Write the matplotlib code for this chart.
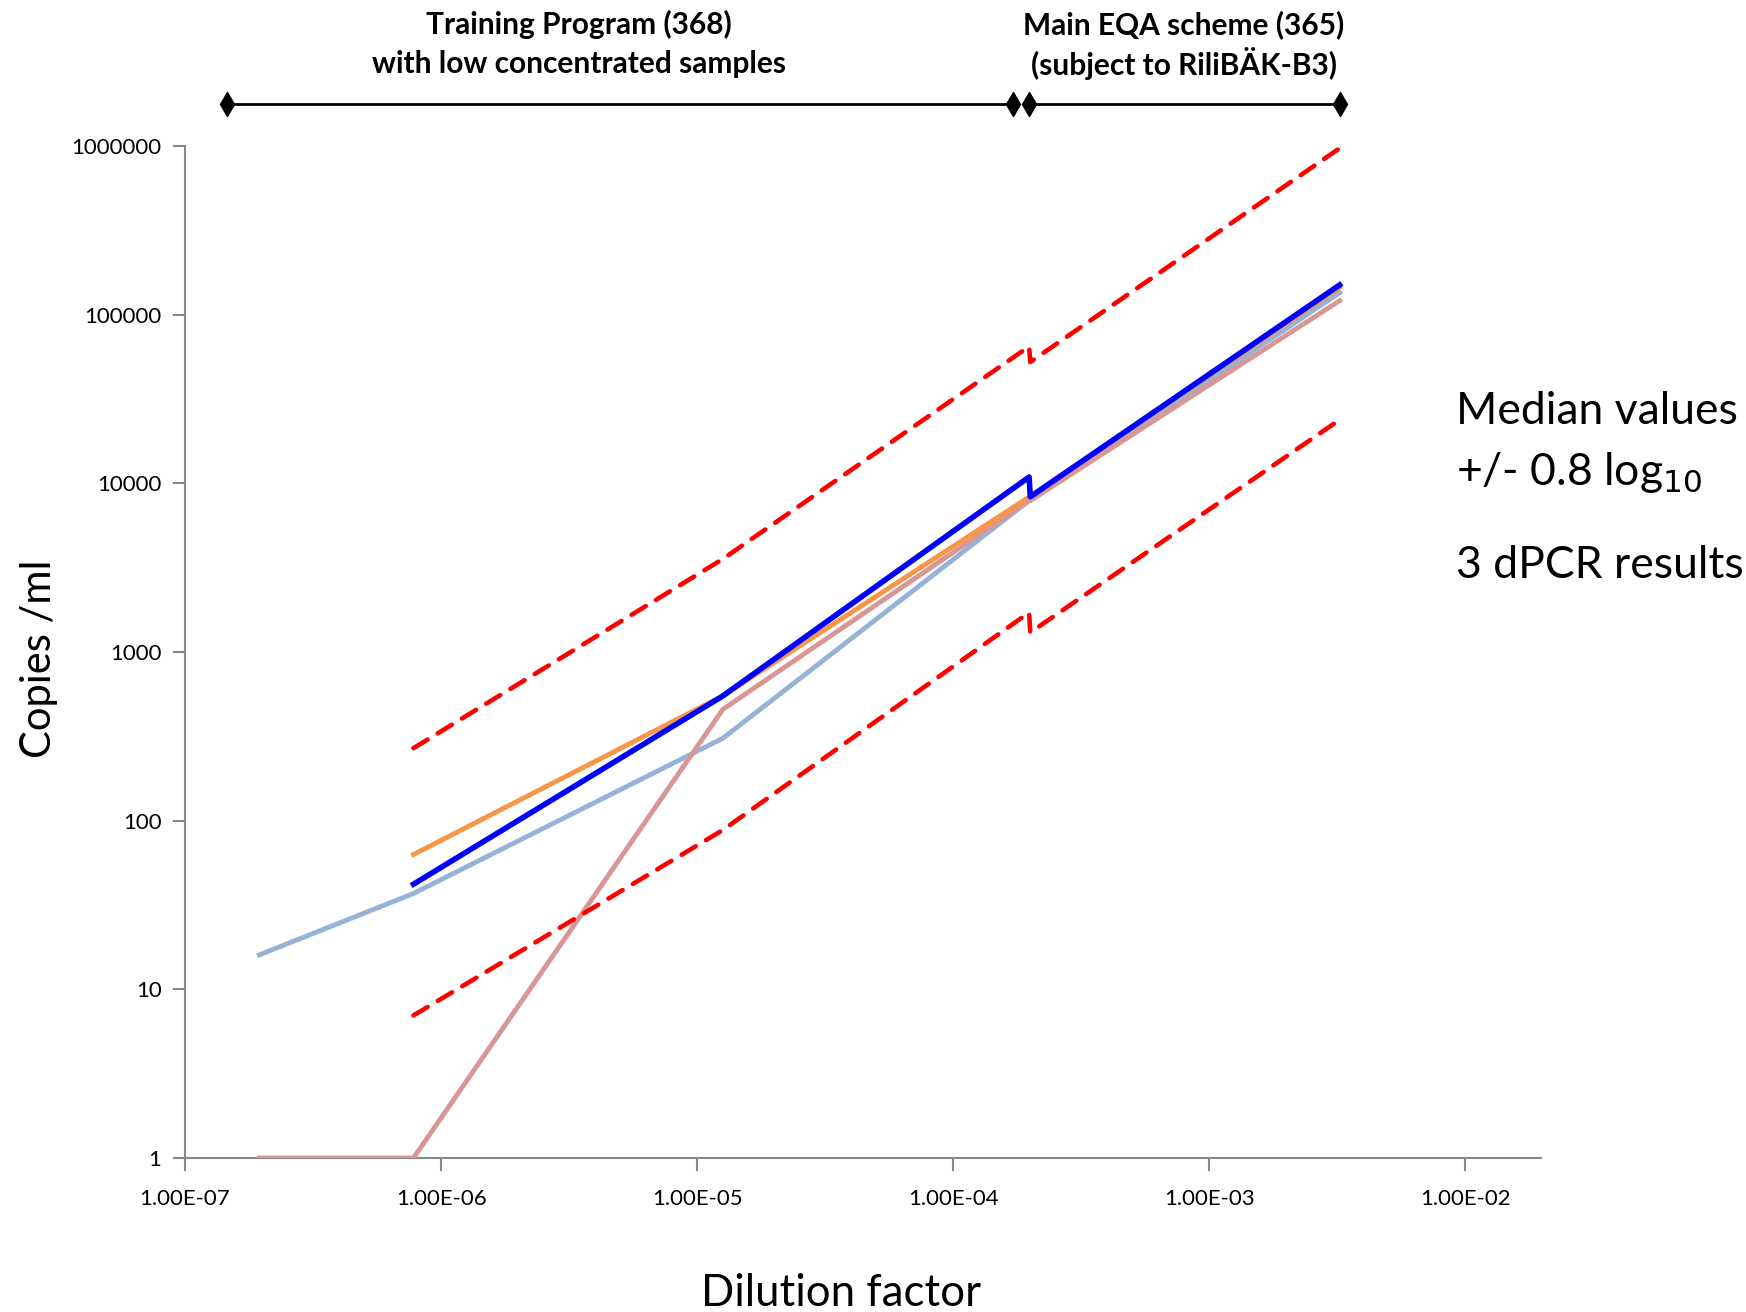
import numpy as np
import matplotlib.pyplot as plt
import matplotlib.transforms as mtransforms

# dilution factors (training program points, then main EQA scheme points)
dilution = [1.95e-7, 7.8e-7, 1.26e-5, 1.98e-4, 2.0e-4, 3.23e-3]

nan = np.nan
gray_blue = [16, 37, 308, 7900, 7900, 135000]
pink = [1, 1, 457, 7900, 7900, 121000]
orange = [nan, 63, 549, 8300, 8300, 145000]
blue = [nan, 42, 549, 10900, 8330, 150000]
upper_limit = [nan, 269, 3560, 64800, 52400, 970000]
lower_limit = [nan, 7.0, 88, 1715, 1305, 23800]

# program ranges for the bar above the chart
training_range = [1.46e-7, 1.72e-4]
eqa_range = [1.98e-4, 3.23e-3]

y_ticks = [1, 10, 100, 1000, 10000, 100000, 1000000]
x_ticks = [1e-7, 1e-6, 1e-5, 1e-4, 1e-3, 1e-2]
x_labels = ['1.00E-07', '1.00E-06', '1.00E-05', '1.00E-04', '1.00E-03', '1.00E-02']

plt.rcParams['font.family'] = ['Lato', 'DejaVu Sans']

fig = plt.figure(figsize=(17.46, 13.12), dpi=100)
ax = fig.add_axes([0.106, 0.1174, 0.7766, 0.7713])

ax.plot(dilution, gray_blue, color='#95B3D7', lw=3.5, zorder=2)
ax.plot(dilution, pink, color='#D99694', lw=3.5, zorder=3)
ax.plot(dilution, orange, color='#F79646', lw=3.5, zorder=4)
ax.plot(dilution, blue, color='#0000FF', lw=4.0, zorder=5)
for lim in (upper_limit, lower_limit):
    ax.plot(dilution, lim, color='#FF0000', lw=3.3, dashes=(3.6, 2.6),
            dash_capstyle='round', zorder=6)

ax.set_xscale('log')
ax.set_yscale('log')
ax.set_xlim(1e-7, 10 ** -1.704)
ax.set_ylim(1, 1e6)
ax.set_xticks(x_ticks)
ax.set_xticklabels(x_labels)
ax.set_yticks(y_ticks)
ax.set_yticklabels([str(v) for v in y_ticks])
ax.minorticks_off()

for side in ('top', 'right'):
    ax.spines[side].set_visible(False)
for side in ('left', 'bottom'):
    ax.spines[side].set_color('#878787')
    ax.spines[side].set_linewidth(1.5)
ax.tick_params(axis='both', colors='#878787', length=9, width=1.5,
               labelcolor='black', labelsize=16)
ax.tick_params(axis='x', pad=13)
ax.tick_params(axis='y', pad=8)

ax.set_ylabel('Copies /ml', fontsize=30)
ax.yaxis.set_label_coords(-0.094, 0.493)
ax.set_xlabel('Dilution factor', fontsize=31.5, va='center')
ax.xaxis.set_label_coords(0.484, -0.1335)

# bar showing the two programs above the plot
trans = mtransforms.blended_transform_factory(ax.transData, ax.transAxes)
for rng in (training_range, eqa_range):
    ax.plot(rng, [1.042, 1.042], color='black', lw=2, marker='d',
            markersize=12, transform=trans, clip_on=False)

top_texts = [
    (10 ** -5.46, 1.1201, 'Training Program (368)'),
    (10 ** -5.46, 1.0815, 'with low concentrated samples'),
    (10 ** -3.1, 1.1201, 'Main EQA scheme (365)'),
    (10 ** -3.1, 1.0815, '(subject to RiliBÄK-B3)'),
]
for x, y, s in top_texts:
    ax.text(x, y, s, transform=trans, ha='center', va='center',
            fontsize=21.5, fontweight='bold')

fig.text(0.834, 0.686, 'Median values', fontsize=32, va='center')
fig.text(0.834, 0.6395, r'+/- 0.8 log$_{10}$', fontsize=32, va='center')
fig.text(0.834, 0.569, '3 dPCR results', fontsize=32, va='center')

fig.savefig('out.png', dpi=100)
